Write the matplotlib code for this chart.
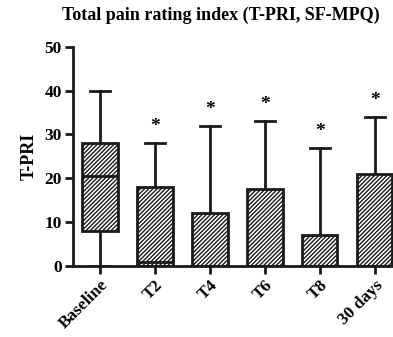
import matplotlib.pyplot as plt
import matplotlib as mpl

# values (box plot, min / q1 / median / q3 / max)
groups = ['Baseline', 'T2', 'T4', 'T6', 'T8', '30 days']
mins = [0, 0, 0, 0, 0, 0]
q1s = [8, 0, 0, 0, 0, 0]
medians = [20.5, 1, 0, 0, 0, 0]
q3s = [28, 18, 12, 17.5, 7, 21]
maxs = [40, 28, 32, 33, 27, 34]
significant = [False, True, True, True, True, True]

mpl.rcParams['font.family'] = ['Liberation Serif', 'DejaVu Serif']
mpl.rcParams['font.weight'] = 'bold'
mpl.rcParams['hatch.linewidth'] = 1.0

fig = plt.figure(figsize=(3.93, 3.37), dpi=100)
ax = fig.add_axes([0.186, 0.211, 0.814, 0.650])

stats = []
for g, lo, a, m, b, hi in zip(groups, mins, q1s, medians, q3s, maxs):
    stats.append({'label': g, 'whislo': lo, 'q1': a, 'med': m, 'q3': b, 'whishi': hi, 'fliers': []})

lw = 2.0
bp = ax.bxp(stats, positions=range(len(groups)), widths=0.64, patch_artist=True,
            showfliers=False, capwidths=0.36,
            boxprops=dict(facecolor='white', edgecolor='#1a1a1a', linewidth=lw, hatch='////////'),
            medianprops=dict(color='#1a1a1a', linewidth=lw),
            whiskerprops=dict(color='#1a1a1a', linewidth=lw),
            capprops=dict(color='#1a1a1a', linewidth=lw))
for w in bp['whiskers']:
    w.set_zorder(1)
for b in bp['boxes']:
    b.set_zorder(2)

# significance stars above whiskers
for i, (hi, sig) in enumerate(zip(maxs, significant)):
    if sig:
        ax.text(i, hi + 1.8, '*', ha='center', va='bottom', fontsize=14, fontweight='bold')

ax.set_xlim(-0.49, 5.33)
ax.set_ylim(0, 50)
ax.set_yticks([0, 10, 20, 30, 40, 50])
ax.set_xticks(range(len(groups)))
ax.set_xticklabels(groups, rotation=45, ha='right', rotation_mode='anchor', fontsize=12.5, fontweight='bold')
for t in ax.get_yticklabels():
    t.set_fontsize(12.5)
    t.set_fontweight('bold')
ax.set_ylabel('T-PRI', fontsize=13, fontweight='bold', labelpad=5)
fig.text(0.563, 0.955, 'Total pain rating index (T-PRI, SF-MPQ)', ha='center', va='center',
         fontsize=13, fontweight='bold')

for s in ['top', 'right']:
    ax.spines[s].set_visible(False)
for s in ['left', 'bottom']:
    ax.spines[s].set_linewidth(lw)
    ax.spines[s].set_color('#1a1a1a')
ax.tick_params(axis='both', direction='out', length=6, width=lw, color='#1a1a1a', pad=2)
ax.spines['bottom'].set_clip_on(False)

fig.savefig('out.png', dpi=100)
